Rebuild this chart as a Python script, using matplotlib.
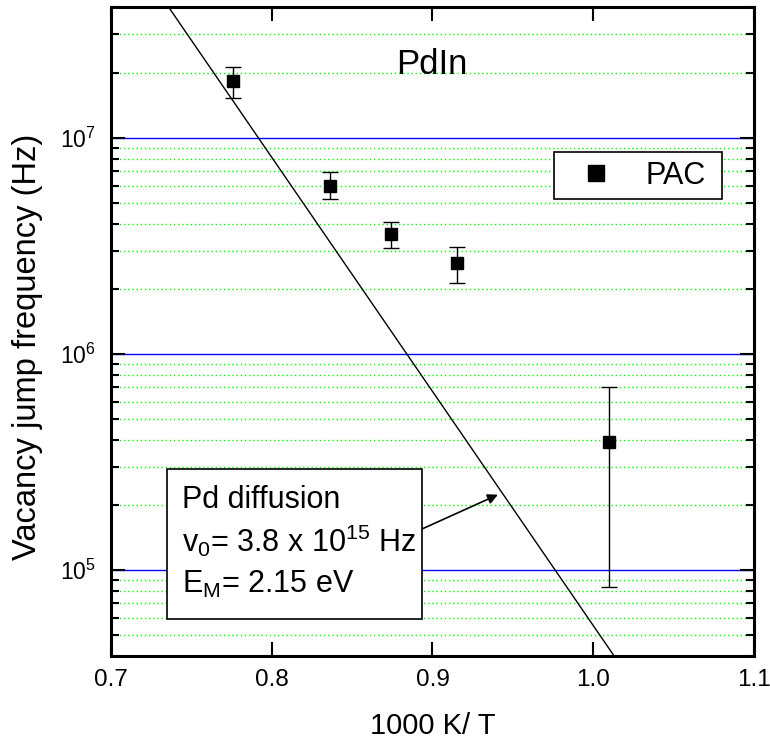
import matplotlib
matplotlib.use("Agg")
import matplotlib.pyplot as plt
from matplotlib.patches import Rectangle
from matplotlib.ticker import LogLocator, NullLocator, NullFormatter

plt.rcParams["font.family"] = ["Liberation Sans", "DejaVu Sans"]
plt.rcParams["mathtext.fontset"] = "custom"
plt.rcParams["mathtext.rm"] = "Liberation Sans"
plt.rcParams["mathtext.it"] = "Liberation Sans:italic"

# --- PAC data ---
inv_T = [0.776, 0.836, 0.874, 0.915, 1.010]
freq = [1.82e7, 6.0e6, 3.57e6, 2.62e6, 3.9e5]
err_hi = [2.12e7, 6.9e6, 4.05e6, 3.12e6, 7.0e5]
err_lo = [1.53e7, 5.2e6, 3.08e6, 2.12e6, 8.3e4]

# --- Pd diffusion line, end points at the frame ---
fit_x = [0.736, 1.013]
fit_y = [4.0e7, 4.0e4]

x_ticks = [0.7, 0.8, 0.9, 1.0, 1.1]

W, H = 770, 742
fig = plt.figure(figsize=(W / 100, H / 100), dpi=100)
ax = fig.add_axes([111 / W, 86 / H, 643 / W, 649 / H])

ax.set_yscale("log")
ax.set_xlim(0.7, 1.1)
ax.set_ylim(4e4, 4.02e7)

yerr = [[f - lo for f, lo in zip(freq, err_lo)],
        [hi - f for f, hi in zip(freq, err_hi)]]
ax.errorbar(inv_T, freq, yerr=yerr, fmt="none", ecolor="k", elinewidth=1,
            capsize=6, capthick=1, zorder=3)
ax.plot(inv_T, freq, "s", color="k", ms=9, label="PAC", zorder=4)
ax.plot(fit_x, fit_y, "-", color="k", lw=1, zorder=3)

# grid
ax.set_axisbelow(True)
ax.grid(which="major", axis="y", color="#0000ff", lw=1)
ax.grid(which="minor", axis="y", color="#00ff00", lw=1, ls=(0, (1, 2)))

# ticks
ax.set_xticks(x_ticks)
ax.xaxis.set_minor_locator(NullLocator())
ax.yaxis.set_major_locator(LogLocator(base=10))
ax.yaxis.set_minor_locator(LogLocator(base=10, subs=range(2, 10)))
ax.yaxis.set_minor_formatter(NullFormatter())
ax.tick_params(which="both", direction="in", top=True, right=True, width=1.5)
ax.tick_params(which="major", length=10)
ax.tick_params(which="minor", length=6)
ax.tick_params(axis="x", labelsize=17.5, pad=9)
ax.tick_params(axis="y", labelsize=16.5, pad=11)
for s in ax.spines.values():
    s.set_linewidth(2.2)

ax.set_xlabel("1000 K/ T", fontsize=21)
ax.set_ylabel("Vacancy jump frequency (Hz)", fontsize=23.5)
ax.xaxis.set_label_coords(0.5, -0.086)
ax.yaxis.set_label_coords(-0.106, 0.476)

ax.text(0.499, 0.897, "PdIn", transform=ax.transAxes, fontsize=25,
        ha="center", va="baseline")

# legend
leg = ax.legend(loc="upper left", bbox_to_anchor=(0.689, 0.70, 0.2613, 0.0766),
                mode="expand", borderaxespad=0, fontsize=22, fancybox=False,
                framealpha=1, edgecolor="k", borderpad=0.28, handlelength=2.2,
                handletextpad=0.51, markerscale=1.25)
leg.get_frame().set_linewidth(1.2)

# annotation box
ax.add_patch(Rectangle((0.0871, 0.057), 0.3966, 0.231, transform=ax.transAxes,
                       facecolor="white", edgecolor="k", lw=1.2, zorder=5))
lines = ["Pd diffusion",
         r"$\mathdefault{v_0}$= 3.8 x $\mathdefault{10^{15}}$ Hz",
         r"$\mathdefault{E_M}$= 2.15 eV"]
for txt, yb in zip(lines, [0.228, 0.161, 0.097]):
    ax.text(0.110, yb, txt, transform=ax.transAxes, fontsize=22,
            ha="left", va="baseline", zorder=6)
ax.annotate("", xy=(0.9407, 2.23e5), xytext=(0.4837, 0.1957),
            textcoords="axes fraction",
            arrowprops=dict(arrowstyle="-|>", color="k", lw=1.2,
                            mutation_scale=15, shrinkA=0, shrinkB=0),
            zorder=6)

fig.savefig("out.png", dpi=100)
